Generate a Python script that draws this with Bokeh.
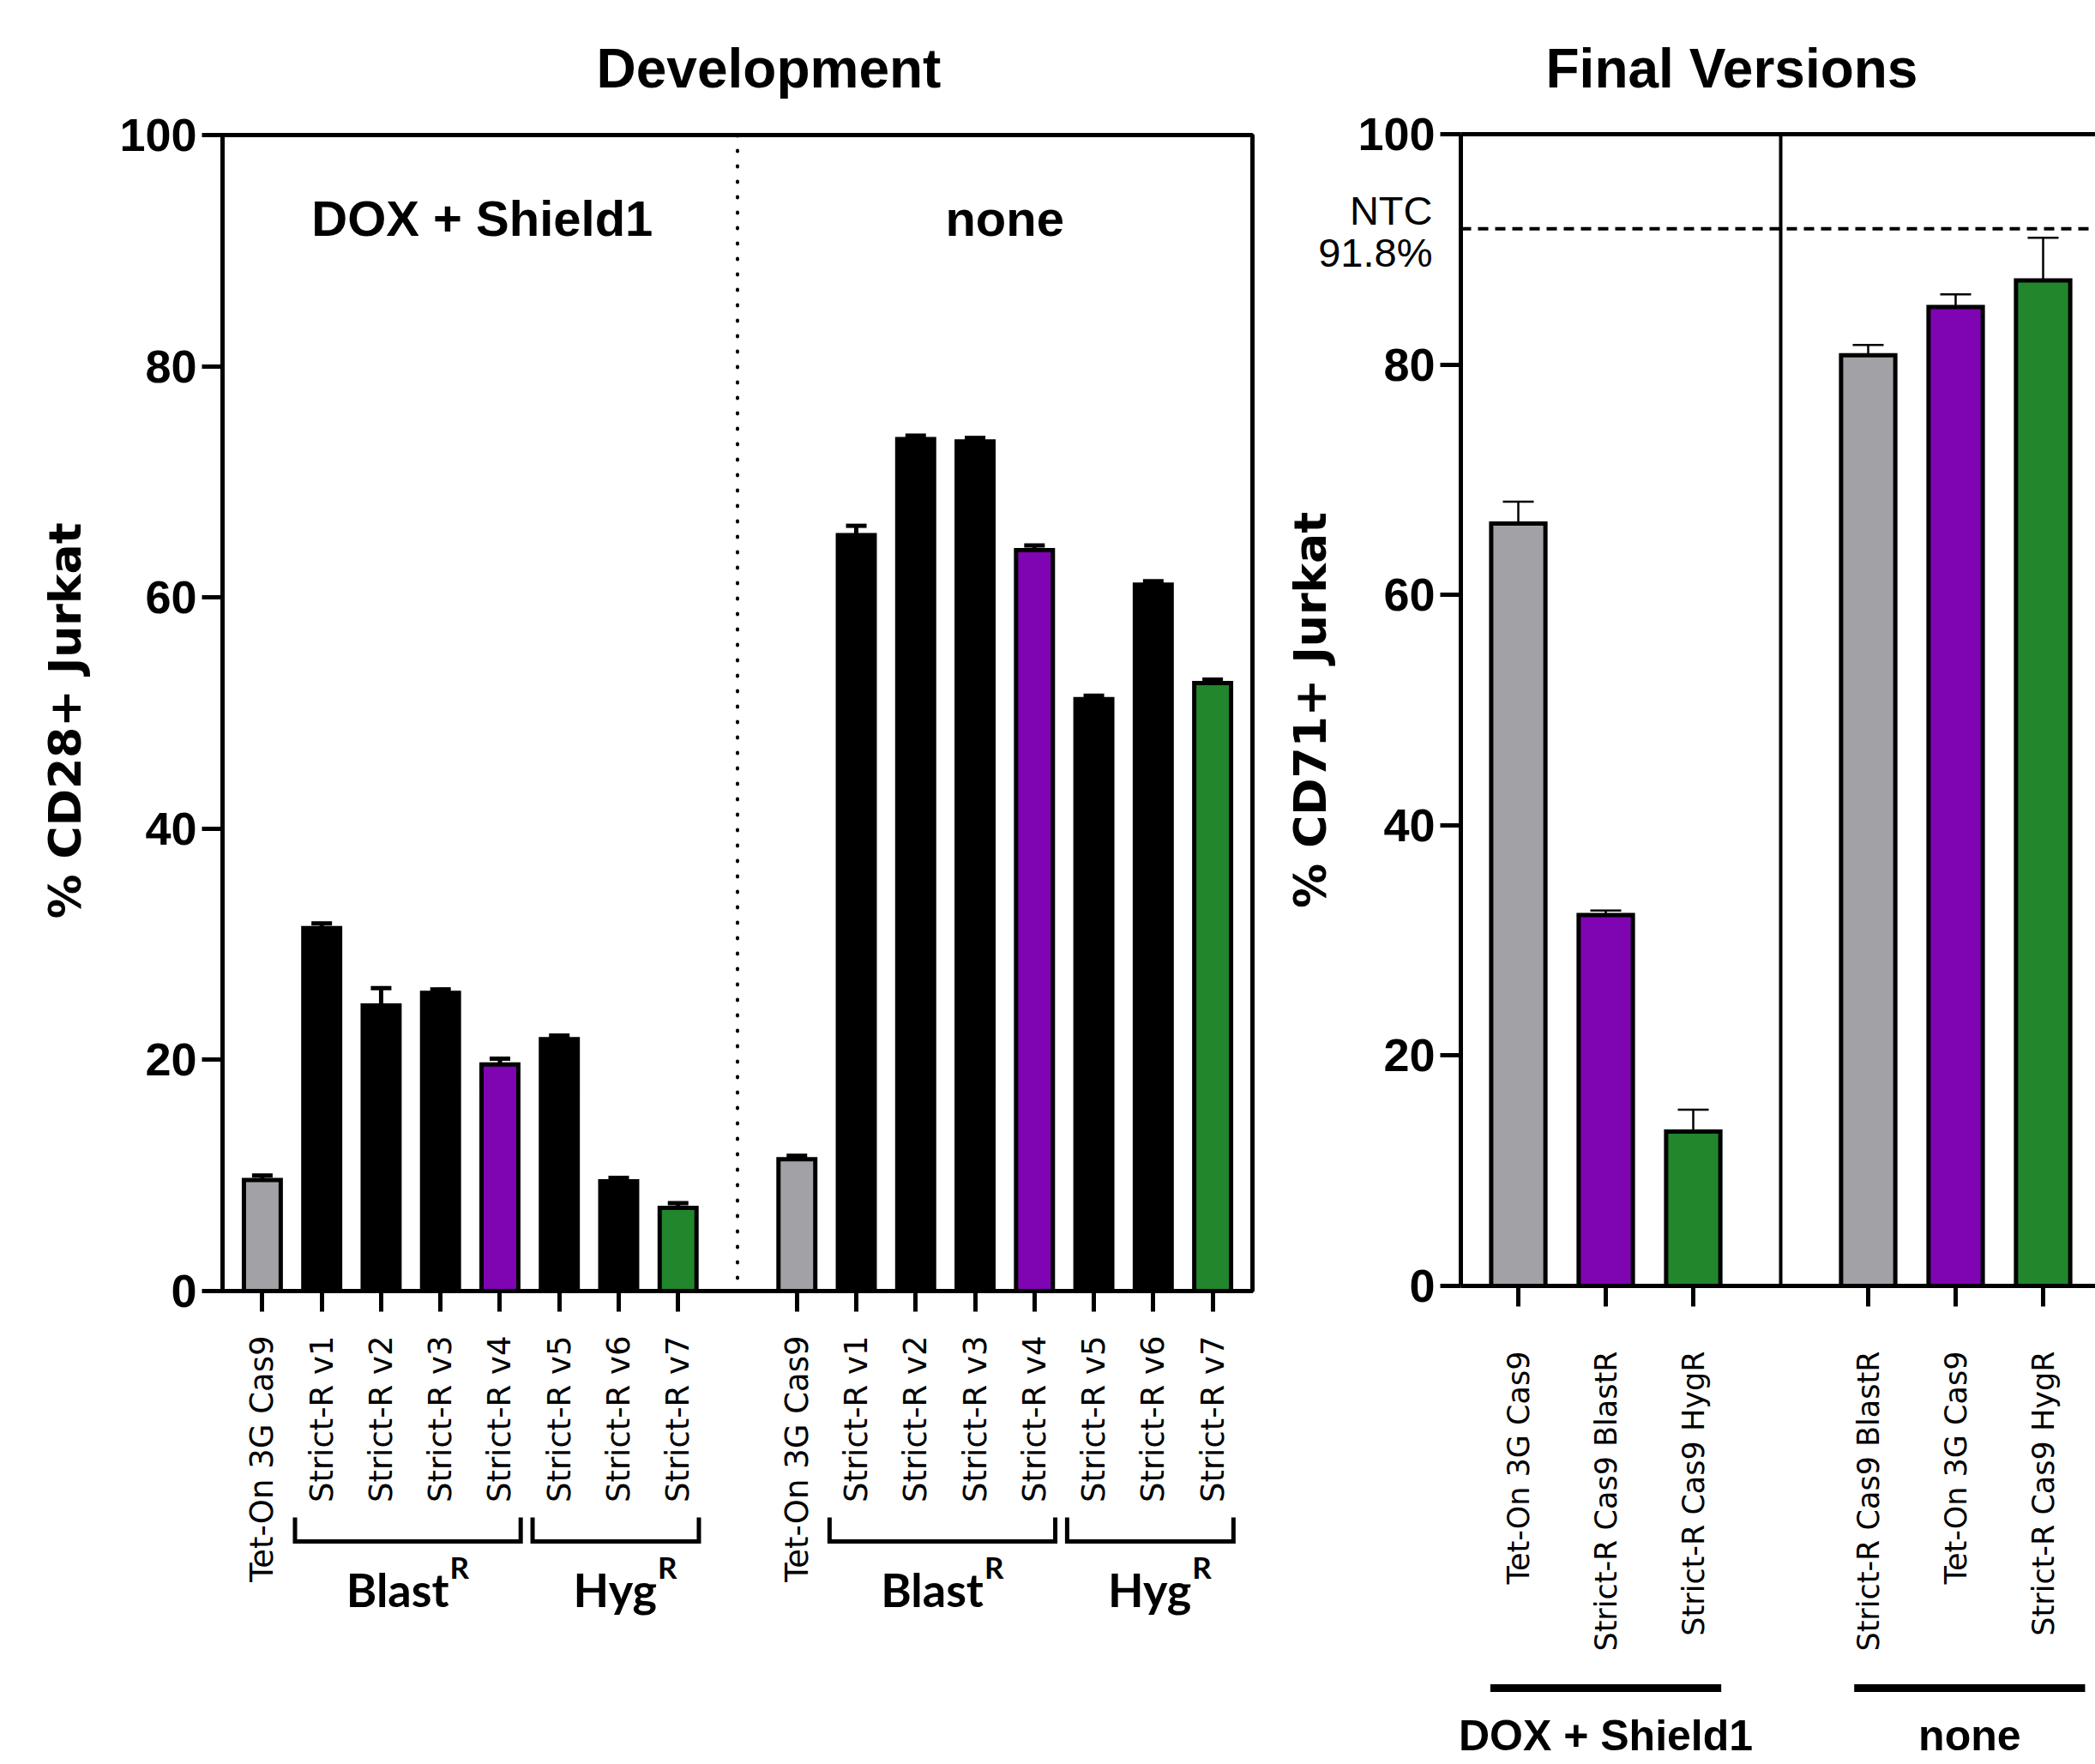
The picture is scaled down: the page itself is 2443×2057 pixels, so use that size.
import math
from bokeh.plotting import figure
from bokeh.models import (Range1d, FixedTicker, LinearAxis, Span, Whisker, TeeHead,
                          ColumnDataSource)
from bokeh.layouts import row, column
from bokeh.core.properties import value
from bokeh.embed import file_html
from bokeh.resources import INLINE

# ---------------- data ----------------
dev_title = "Development"
final_title = "Final Versions"
conditions = ["DOX + Shield1", "none"]

dev_categories = ["Tet-On 3G Cas9", "Strict-R v1", "Strict-R v2", "Strict-R v3",
                  "Strict-R v4", "Strict-R v5", "Strict-R v6", "Strict-R v7"]
dev_dox_mean = [9.6, 31.4, 24.7, 25.8, 19.6, 21.8, 9.5, 7.2]
dev_dox_upper = [10.0, 31.8, 26.2, 26.1, 20.1, 22.1, 9.8, 7.6]
dev_none_mean = [11.4, 65.4, 73.7, 73.5, 64.1, 51.2, 61.1, 52.6]
dev_none_upper = [11.7, 66.2, 74.0, 73.8, 64.5, 51.5, 61.4, 52.9]
dev_colors = ["#A2A1A6", "#000000", "#000000", "#000000",
              "#7F04B2", "#000000", "#000000", "#22862C"]
dev_groups = ["Blast", "Hyg"]
dev_group_members = [[1, 2, 3, 4], [5, 6, 7]]

final_dox_categories = ["Tet-On 3G Cas9", "Strict-R Cas9 BlastR", "Strict-R Cas9 HygR"]
final_dox_mean = [66.2, 32.2, 13.4]
final_dox_upper = [68.1, 32.6, 15.3]
final_none_categories = ["Strict-R Cas9 BlastR", "Tet-On 3G Cas9", "Strict-R Cas9 HygR"]
final_none_mean = [80.8, 85.0, 87.3]
final_none_upper = [81.7, 86.1, 91.0]
final_colors = ["#A2A1A6", "#7F04B2", "#22862C"]
ntc_name = "NTC"
ntc_value = 91.8

y_ticks = [0, 20, 40, 60, 80, 100]
dev_ylabel = "% CD28+  Jurkat"
final_ylabel = "% CD71+ Jurkat"

# ---------------- style ----------------
HELV = "Liberation Sans"
CAT = "DejaVu Sans"
LW = 5

# positions derived from category order (gap slot between conditions)
n = len(dev_categories)
dev_x = list(range(n)) + [i + n + 1 for i in range(n)]
dev_div = n
m = len(final_dox_categories)
fin_x = list(range(m)) + [i + m + 1 for i in range(m)]
fin_div = m


def style_y_axis(ax, label, standoff):
    ax.ticker = FixedTicker(ticks=y_ticks)
    ax.axis_label = label
    ax.axis_label_text_font = CAT
    ax.axis_label_text_font_style = "bold"
    ax.axis_label_text_font_size = "52px"
    ax.axis_label_standoff = standoff
    ax.major_label_text_font = HELV
    ax.major_label_text_font_style = "bold"
    ax.major_label_text_font_size = "54px"
    ax.major_label_standoff = 6
    ax.major_tick_out = 24
    ax.major_tick_in = 0
    ax.minor_tick_line_color = None
    ax.axis_line_width = LW
    ax.major_tick_line_width = LW
    ax.axis_line_color = "black"
    ax.major_tick_line_color = "black"
    ax.major_label_text_color = "black"
    ax.axis_label_text_color = "black"


def style_x_axis(ax, ticks):
    ax.ticker = FixedTicker(ticks=ticks)
    ax.major_label_overrides = {t: "" for t in ticks}
    ax.major_label_text_font_size = "10px"
    ax.major_label_standoff = 0
    ax.major_tick_out = 24
    ax.major_tick_in = 0
    ax.minor_tick_line_color = None
    ax.axis_line_width = LW
    ax.major_tick_line_width = LW
    ax.axis_line_color = "black"
    ax.major_tick_line_color = "black"


def style_title(p, text, offset, standoff):
    p.title.text = text
    p.title.text_font = HELV
    p.title.text_font_style = "bold"
    p.title.text_font_size = "64px"
    p.title.align = "left"
    p.title.offset = offset
    p.title.vertical_align = "middle"
    p.title.standoff = standoff
    p.title.text_color = "black"


# ================= Left panel (Development) =================
L1 = figure(width=1480, height=1545, x_range=Range1d(-0.67, 16.67), y_range=Range1d(0, 100),
            output_backend="svg", toolbar_location=None,
            x_axis_location=None, y_axis_location=None,
            min_border_left=259, min_border_right=20, min_border_top=157, min_border_bottom=40)
L1.xgrid.visible = False
L1.ygrid.visible = False
L1.outline_line_color = "black"
L1.outline_line_width = LW
style_title(L1, dev_title, 436, 82)

yax = LinearAxis()
style_y_axis(yax, dev_ylabel, 30)
L1.add_layout(yax, "left")
xax = LinearAxis()
style_x_axis(xax, dev_x)
L1.add_layout(xax, "below")

dev_src = ColumnDataSource(dict(
    x=dev_x,
    top=dev_dox_mean + dev_none_mean,
    upper=dev_dox_upper + dev_none_upper,
    color=dev_colors + dev_colors,
))
L1.vbar(x="x", top="top", bottom=0, width=0.62, fill_color="color", line_color="black",
        line_width=LW, line_join="miter", source=dev_src)
L1.add_layout(Whisker(source=dev_src, base="x", lower="top", upper="upper",
                      line_width=LW, line_color="black", level="annotation",
                      upper_head=TeeHead(size=24, line_width=LW, line_color="black"),
                      lower_head=None))
L1.add_layout(Span(location=dev_div, dimension="height", line_color="black",
                   line_width=4, line_dash="1 17", line_cap="round"))
cond_x = [sum(dev_x[:n]) / n, sum(dev_x[n:]) / n]
L1.text(x=cond_x, y=[92.8, 92.8], text=conditions, x_offset=[14, 0],
        text_font=value(HELV), text_font_style="bold", text_font_size="58px",
        text_align="center", text_baseline="middle", text_color="black")

# labels / brackets strip below left panel
H_L2 = 512
L2 = figure(width=1480, height=H_L2, x_range=L1.x_range, y_range=Range1d(0, H_L2),
            output_backend="svg", toolbar_location=None,
            x_axis_location=None, y_axis_location=None,
            min_border_left=259, min_border_right=20, min_border_top=0, min_border_bottom=0)
L2.xgrid.visible = False
L2.ygrid.visible = False
L2.outline_line_color = None
L2.text(x=dev_x, y=[H_L2 - 12] * len(dev_x), text=dev_categories + dev_categories,
        angle=math.pi / 2, text_align="right", text_baseline="middle",
        text_font=value(CAT), text_font_size="37px", text_color="black")

b_xs, b_ys, g_x, g_txt = [], [], [], []
for c in range(2):
    base = 0 if c == 0 else n + 1
    for gname, members in zip(dev_groups, dev_group_members):
        lft = base + members[0] - 0.45
        rgt = base + members[-1] + 0.35
        b_xs.append([lft, lft, rgt, rgt])
        b_ys.append([H_L2 - 224, H_L2 - 252, H_L2 - 252, H_L2 - 224])
        g_x.append((lft + rgt) / 2)
        g_txt.append(gname)
L2.multi_line(xs=b_xs, ys=b_ys, line_color="black", line_width=LW, line_join="miter")
L2.text(x=g_x, y=[H_L2 - 308] * len(g_x), text=g_txt, x_offset=48,
        text_font=value("Lato"), text_font_style="bold", text_font_size="54px",
        text_align="right", text_baseline="alphabetic", text_color="black")
L2.text(x=g_x, y=[H_L2 - 281] * len(g_x), text=["R"] * len(g_x), x_offset=49,
        text_font=value("Lato"), text_font_style="bold", text_font_size="35px",
        text_align="left", text_baseline="alphabetic", text_color="black")

# ================= Right panel (Final Versions) =================
# The frame spans the whole figure; the axes are pinned at the panel's border
# (x = R_EDGE, y = 0) so the NTC note left of the y axis can be drawn in the frame.
R_W = 963
R_AXIS_PX = 223            # pixels left of the panel border (axis area)
R_EDGE = -0.657            # data x of the panel's left border
R_END = 6.598
units_per_px = (R_END - R_EDGE) / (R_W - R_AXIS_PX)
R_START = R_EDGE - R_AXIS_PX * units_per_px
R_PAD_PX = 30              # frame padding above 100 and below 0 (room for tick labels)
R_PLOT_PX = 1343           # pixels for 0..100
y_pad = R_PAD_PX * 100 / R_PLOT_PX
R1 = figure(width=R_W, height=1539, x_range=Range1d(R_START, R_END),
            y_range=Range1d(-y_pad, 100 + y_pad),
            output_backend="svg", toolbar_location=None,
            x_axis_location=None, y_axis_location=None,
            min_border_left=0, min_border_right=0, min_border_top=156 - R_PAD_PX,
            min_border_bottom=1539 - (156 + R_PLOT_PX + R_PAD_PX))
R1.xgrid.visible = False
R1.ygrid.visible = False
R1.outline_line_color = None
style_title(R1, final_title, 99 + R_AXIS_PX, 20)

yax2 = LinearAxis(bounds=(0, 100), fixed_location=R_EDGE)
style_y_axis(yax2, final_ylabel, 22)
R1.add_layout(yax2, "left")

xax2 = LinearAxis(bounds=(R_EDGE, R_END), fixed_location=0)
style_x_axis(xax2, fin_x)
R1.add_layout(xax2, "below")

# top border, condition divider and NTC reference line
R1.segment(x0=[R_EDGE], y0=[100], x1=[R_END], y1=[100], line_color="black", line_width=LW)
R1.segment(x0=[fin_div], y0=[0], x1=[fin_div], y1=[100], line_color="black", line_width=4)
R1.segment(x0=[R_EDGE], y0=[ntc_value], x1=[R_END], y1=[ntc_value], line_color="black",
           line_width=4, line_dash="12 8")
R1.text(x=[R_EDGE, R_EDGE], y=[ntc_value + 1.6, ntc_value - 2.1],
        text=[ntc_name, f"{ntc_value}%"], x_offset=-33,
        text_font=value(HELV), text_font_size="47px", text_align="right",
        text_baseline="middle", text_color="black")

fin_src = ColumnDataSource(dict(
    x=fin_x,
    top=final_dox_mean + final_none_mean,
    upper=final_dox_upper + final_none_upper,
    color=final_colors + final_colors,
))
R1.vbar(x="x", top="top", bottom=0, width=0.62, fill_color="color", line_color="black",
        line_width=LW, line_join="miter", source=fin_src)
R1.add_layout(Whisker(source=fin_src, base="x", lower="top", upper="upper",
                      line_width=2.5, line_color="black", level="annotation",
                      upper_head=TeeHead(size=36, line_width=2.5, line_color="black"),
                      lower_head=None))

H_R2 = 518
R2 = figure(width=R_W, height=H_R2, x_range=R1.x_range, y_range=Range1d(0, H_R2),
            output_backend="svg", toolbar_location=None,
            x_axis_location=None, y_axis_location=None,
            min_border_left=0, min_border_right=0, min_border_top=0, min_border_bottom=0)
R2.xgrid.visible = False
R2.ygrid.visible = False
R2.outline_line_color = None
R2.text(x=fin_x, y=[H_R2 - 36] * len(fin_x), text=final_dox_categories + final_none_categories,
        angle=math.pi / 2, text_align="right", text_baseline="middle",
        text_font=value(CAT), text_font_size="35px", text_color="black")
shift = [0.0, 0.16]
l_xs, l_ys, c_x = [], [], []
for c in range(2):
    xs = fin_x[c * m:(c + 1) * m]
    lft = xs[0] - 0.32 + shift[c]
    rgt = xs[-1] + 0.32 + shift[c]
    l_xs.append([lft, rgt])
    l_ys.append([H_R2 - 429, H_R2 - 429])
    c_x.append((lft + rgt) / 2)
R2.multi_line(xs=l_xs, ys=l_ys, line_color="black", line_width=9, line_cap="butt")
R2.text(x=c_x, y=[H_R2 - 484] * 2, text=conditions,
        text_font=value(HELV), text_font_style="bold", text_font_size="50px",
        text_align="center", text_baseline="middle", text_color="black")

layout = row(column(L1, L2), column(R1, R2))
open("out.html", "w").write(file_html(layout, INLINE))
